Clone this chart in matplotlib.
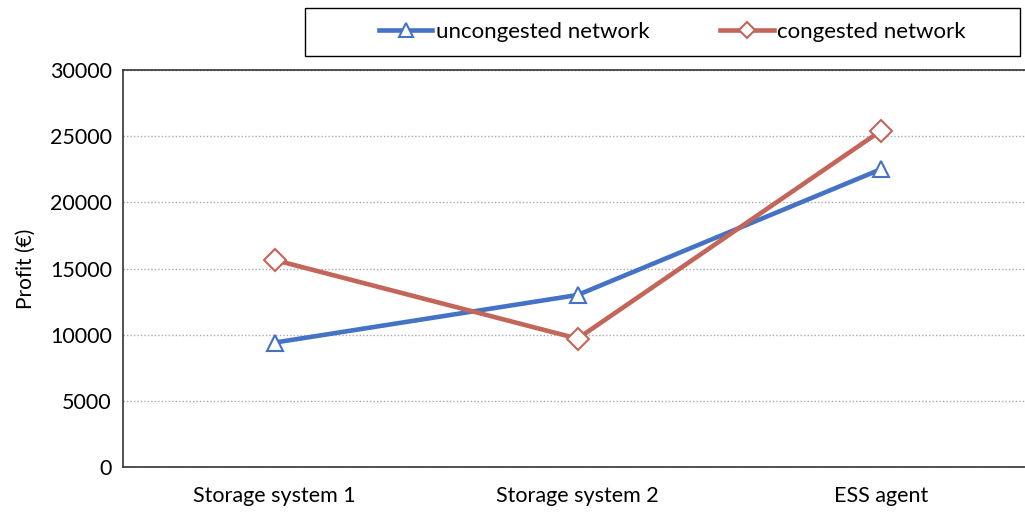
import matplotlib.pyplot as plt
from matplotlib.lines import Line2D
from matplotlib.patches import Rectangle

plt.rcParams['font.family'] = ['Lato', 'DejaVu Sans']

# profit per agent, two network cases
categories = ["Storage system 1", "Storage system 2", "ESS agent"]
uncongested = [9400, 13000, 22500]
congested = [15650, 9700, 25400]

blue = "#4472C4"
red = "#C4655A"

fig = plt.figure(figsize=(10.25, 5.12), dpi=100)
ax = fig.add_axes([0.12, 0.088, 0.887, 0.775])

x = list(range(len(categories)))
ax.plot(x, uncongested, color=blue, lw=3.3, marker="^", ms=12,
        mfc="white", mec=blue, mew=1.5, zorder=3)
ax.plot(x, congested, color=red, lw=3.3, marker="D", ms=11,
        mfc="white", mec=red, mew=1.5, zorder=3)

ax.set_xlim(-0.5, 2.5)
ax.set_ylim(0, 30000)
ax.set_yticks(range(0, 30001, 5000))
ax.set_xticks(x)
ax.set_xticklabels(categories)
ax.tick_params(length=0, labelsize=15.5, pad=8)
ax.tick_params(axis="x", pad=14)
ax.yaxis.grid(True, color="#AAAAAA", linestyle=(0, (1, 1.5)), lw=1)
ax.set_axisbelow(True)
for s in ax.spines.values():
    s.set_color("#333333")
    s.set_linewidth(1.2)
ax.set_ylabel("Profit (€)", fontsize=15, labelpad=10)

# legend box frame, entries centred inside it
fig.patches.append(Rectangle((0.298, 0.891), 0.697, 0.093, transform=fig.transFigure,
                             fill=False, edgecolor="black", lw=1))
handles = [
    Line2D([], [], color=blue, lw=3.3, marker="^", ms=10, mfc="white", mec=blue, mew=1.5),
    Line2D([], [], color=red, lw=3.3, marker="D", ms=8, mfc="white", mec=red, mew=1.5),
]
fig.legend(handles, ["uncongested network", "congested network"],
           loc="center", bbox_to_anchor=(0.656, 0.937),
           ncol=2, fontsize=16, frameon=False,
           handlelength=2.4, handletextpad=0.15, borderaxespad=0,
           columnspacing=3.2)

fig.savefig("out.png", dpi=100)
